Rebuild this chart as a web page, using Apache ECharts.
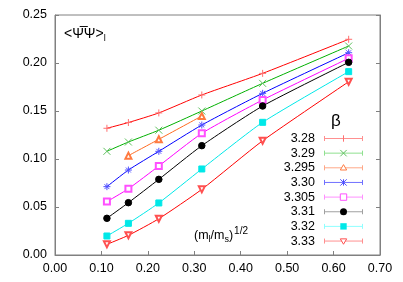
<!DOCTYPE html>
<html><head><meta charset="utf-8">
<script src="https://cdn.jsdelivr.net/npm/echarts@6/dist/echarts.min.js"></script>
<style>html,body{margin:0;padding:0;background:#fff}#c{width:403px;height:282px}</style>
</head><body><div id="c"></div>
<script>
// Data
var xVals = [0.1118, 0.1581, 0.2236, 0.3162, 0.4472, 0.6325];
var betaLabels = ['3.28', '3.29', '3.295', '3.30', '3.305', '3.31', '3.32', '3.33'];
var b328  = [0.132, 0.138, 0.148, 0.1667, 0.1892, 0.2247];
var b329  = [0.108, 0.1177, 0.130, 0.150, 0.1788, 0.2177];
var b3295 = [null, 0.1035, 0.1205, 0.1448, null, null];
var b330  = [0.0712, 0.0885, 0.108, 0.1354, 0.1684, 0.2107];
var b3305 = [0.0556, 0.069, 0.0927, 0.1267, 0.1615, 0.2049];
var b331  = [0.0382, 0.0545, 0.0788, 0.1139, 0.1552, 0.2007];
var b332  = [0.0198, 0.033, 0.0542, 0.0896, 0.1382, 0.191];
var b333  = [0.0111, 0.0205, 0.0378, 0.0684, 0.119, 0.1805];
var xTicks = ['0.00','0.10','0.20','0.30','0.40','0.50','0.60','0.70'];
var yTicks = ['0.00','0.05','0.10','0.15','0.20','0.25'];

var allSeries = [b328, b329, b3295, b330, b3305, b331, b332, b333];
var lineColors = ['#ff0000','#00b000','#ff6a20','#0000ff','#ff00ff','#000000','#00e8e8','#ff0000'];
var markColors = ['#ff7070','#60c060','#ff7a40','#5050ff','#ff50ff','#000000','#00e8e8','#ff5050'];
var legLineColors = ['#ff9090','#90e090','#ffa888','#7070ff','#ff90ff','#a0a0a0','#90ffff','#ff9090'];
var FONT = 'Liberation Sans, Arial, sans-serif';

var P_PLUS = 'path://M5,0L5,10M0,5L10,5';
var P_X = 'path://M0,0L10,10M10,0L0,10';
var P_STAR = 'path://M5,0L5,10M0,5L10,5M1.5,1.5L8.5,8.5M8.5,1.5L1.5,8.5';
var symbols = [P_PLUS, P_X, 'emptyTriangle', P_STAR, 'emptyRect', 'circle', 'rect', 'emptyTriangle'];
var symSizes = [7, 7, 6, 7, 6, 6.5, 6, 6];
var symRot = [0,0,0,0,0,0,0,180];

var series = allSeries.map(function (vals, i) {
  var data = [];
  vals.forEach(function (v, j) { if (v !== null) data.push([xVals[j], v]); });
  var isPath = symbols[i].indexOf('path://') === 0;
  return {
    type: 'line', name: betaLabels[i], data: data, smooth: 0.2,
    symbol: symbols[i], symbolSize: symSizes[i], symbolRotate: symRot[i],
    lineStyle: { color: lineColors[i], width: 1 },
    itemStyle: isPath ? { color: 'none', borderColor: markColors[i], borderWidth: 1 }
                      : { color: markColors[i], borderColor: markColors[i], borderWidth: 1 },
    showAllSymbol: true, animation: false, z: 3 + i
  };
});

// Legend drawn as graphic elements
var graphics = [];
var legTop = 138.5, legStep = 14.65, txtRight = 315, lx0 = 324, lx1 = 363, sx = 343.5;
graphics.push({ type: 'text', left: 331, top: 113, style: { text: 'β', font: '17px ' + FONT, fill: '#000' } });
betaLabels.forEach(function (lab, i) {
  var y = legTop + i * legStep;
  var lc = legLineColors[i], mc = markColors[i];
  graphics.push({ type: 'text', x: txtRight, y: y, style: { text: lab, font: '12.5px ' + FONT, fill: '#000', textAlign: 'right', textVerticalAlign: 'middle' } });
  graphics.push({ type: 'line', shape: { x1: lx0, y1: y, x2: lx1, y2: y }, style: { stroke: lc, lineWidth: 1 } });
  graphics.push({ type: 'line', shape: { x1: lx0 + 0.5, y1: y - 2.5, x2: lx0 + 0.5, y2: y + 2.5 }, style: { stroke: lc, lineWidth: 1 } });
  graphics.push({ type: 'line', shape: { x1: lx1 - 0.5, y1: y - 2.5, x2: lx1 - 0.5, y2: y + 2.5 }, style: { stroke: lc, lineWidth: 1 } });
  var r = 3.2;
  if (i === 0) {
    graphics.push({ type: 'line', shape: { x1: sx, y1: y - r, x2: sx, y2: y + r }, style: { stroke: mc, lineWidth: 1 } });
  } else if (i === 1) {
    graphics.push({ type: 'line', shape: { x1: sx - r, y1: y - r, x2: sx + r, y2: y + r }, style: { stroke: mc, lineWidth: 1 } });
    graphics.push({ type: 'line', shape: { x1: sx - r, y1: y + r, x2: sx + r, y2: y - r }, style: { stroke: mc, lineWidth: 1 } });
  } else if (i === 2) {
    graphics.push({ type: 'polygon', shape: { points: [[sx, y - r], [sx + r, y + r - 1], [sx - r, y + r - 1]] }, style: { stroke: mc, fill: '#fff', lineWidth: 1 } });
  } else if (i === 3) {
    graphics.push({ type: 'line', shape: { x1: sx, y1: y - r, x2: sx, y2: y + r }, style: { stroke: mc, lineWidth: 1 } });
    graphics.push({ type: 'line', shape: { x1: sx - r, y1: y - r, x2: sx + r, y2: y + r }, style: { stroke: mc, lineWidth: 1 } });
    graphics.push({ type: 'line', shape: { x1: sx - r, y1: y + r, x2: sx + r, y2: y - r }, style: { stroke: mc, lineWidth: 1 } });
  } else if (i === 4) {
    graphics.push({ type: 'rect', shape: { x: sx - r, y: y - r, width: 2 * r, height: 2 * r }, style: { stroke: mc, fill: '#fff', lineWidth: 1 } });
  } else if (i === 5) {
    graphics.push({ type: 'circle', shape: { cx: sx, cy: y, r: 3.5 }, style: { fill: '#000' } });
  } else if (i === 6) {
    graphics.push({ type: 'rect', shape: { x: sx - 3.2, y: y - 3.2, width: 6.4, height: 6.4 }, style: { fill: mc } });
  } else {
    graphics.push({ type: 'polygon', shape: { points: [[sx - r, y - r + 1], [sx + r, y - r + 1], [sx, y + r]] }, style: { stroke: mc, fill: '#fff', lineWidth: 1 } });
  }
});
// axis titles
graphics.push({ type: 'text', x: 64, y: 34, style: {
  text: '{a|<Ψ̅Ψ>}{s|l}', textVerticalAlign: 'middle',
  rich: { a: { font: '14px ' + FONT, fill: '#000' }, s: { font: '9px ' + FONT, fill: '#000', padding: [9, 0, 0, 0] } }
}});
graphics.push({ type: 'text', x: 194, y: 236, style: {
  text: '{a|(m}{s|l}{a|/m}{s|s}{a|)}{p|1/2}', textVerticalAlign: 'middle',
  rich: { a: { font: '12.5px ' + FONT, fill: '#000' }, s: { font: '9px ' + FONT, fill: '#000', padding: [8, 0, 0, 0] },
          p: { font: '10px ' + FONT, fill: '#000', padding: [0, 0, 10, 1] } }
}});

var axisCol = '#808080';
var chart = echarts.init(document.getElementById('c'), null, { renderer: 'canvas' });
chart.setOption({
  animation: false,
  grid: { left: 55, top: 15, right: 23, bottom: 27, show: true, borderColor: axisCol, borderWidth: 1, backgroundColor: 'transparent' },
  xAxis: {
    type: 'value', min: 0, max: 0.7, interval: 0.1,
    axisLine: { show: true, lineStyle: { color: axisCol, width: 1 } },
    axisTick: { show: true, inside: true, length: 4, lineStyle: { color: axisCol } },
    splitLine: { show: false },
    axisLabel: { color: '#000', fontFamily: FONT, fontSize: 12.5, margin: 7,
      formatter: function (v) { return xTicks[Math.round(v * 10)]; } }
  },
  yAxis: [{
    type: 'value', min: 0, max: 0.25, interval: 0.05,
    axisLine: { show: true, lineStyle: { color: axisCol, width: 1 } },
    axisTick: { show: true, inside: true, length: 4, lineStyle: { color: axisCol } },
    splitLine: { show: false },
    axisLabel: { color: '#000', fontFamily: FONT, fontSize: 12.5, margin: 8,
      formatter: function (v) { return yTicks[Math.round(v * 20)]; } }
  }, {
    type: 'value', min: 0, max: 0.25, interval: 0.05, position: 'right',
    axisLine: { show: true, lineStyle: { color: axisCol, width: 1 } },
    axisTick: { show: true, inside: true, length: 4, lineStyle: { color: axisCol } },
    splitLine: { show: false }, axisLabel: { show: false }
  }],
  series: series,
  graphic: graphics
});
</script></body></html>
